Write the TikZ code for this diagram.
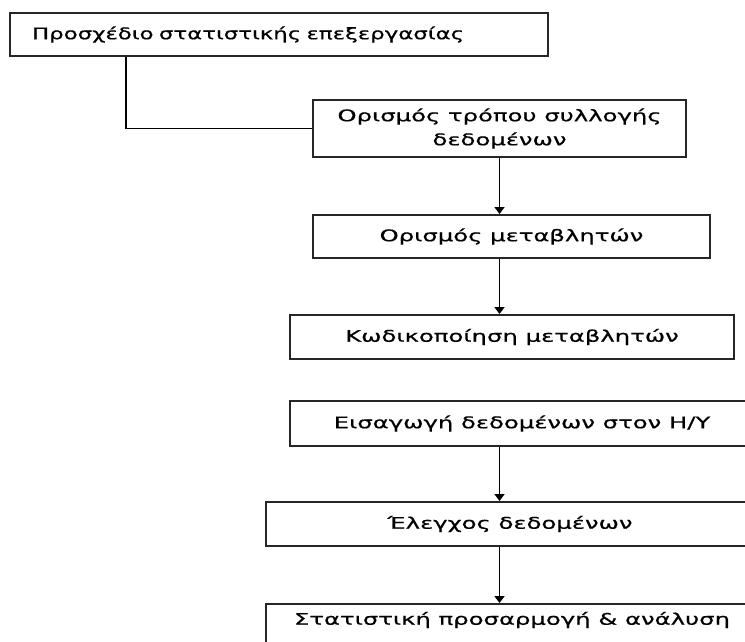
\documentclass[tikz,border=0pt]{standalone}
\usepackage{fontspec}
\newfontfamily\widefont{DejaVu Sans}[FakeStretch=1.52,FakeBold=0.6]
\newfontfamily\topfont{DejaVu Sans}[FakeStretch=1.43,FakeBold=0.6]
\usetikzlibrary{arrows.meta}
\begin{document}
\begin{tikzpicture}[x=1pt,y=-1pt,
  box/.style={draw=black!85,line width=2pt,rectangle,inner sep=0pt,
    font=\widefont\fontsize{16}{24}\selectfont,align=center},
  conn/.style={draw=black,line width=1.8pt},
  arr/.style={conn,-{Triangle[width=10pt,length=7pt]}}]
\useasboundingbox (0,0) rectangle (745,641);
\clip (0,0) rectangle (745,641);
% boxes
\node[box,minimum width=538pt,minimum height=43pt,text width=494pt,align=left,
  font=\topfont\fontsize{16}{24}\selectfont] (b1) at (279,34.5) {Προσχέδιο στατιστικής επεξεργασίας};
\node[box,minimum width=373pt,minimum height=57pt] (b2) at (499.5,128.5) {Ορισμός τρόπου συλλογής\\δεδομένων};
\node[box,minimum width=397pt,minimum height=43pt] (b3) at (511.5,236.5) {Ορισμός μεταβλητών};
\node[box,minimum width=444pt,minimum height=44pt] (b4) at (512,337) {Κωδικοποίηση μεταβλητών};
\node[box,minimum width=464pt,minimum height=45pt] (b5) at (522,423.5) {Εισαγωγή δεδομένων στον Η/Υ};
\node[box,minimum width=488pt,minimum height=44pt] (b6) at (510,524) {Έλεγχος δεδομένων};
\node[box,minimum width=492pt,minimum height=60pt] (b7) at (512,634) {};
\node[font=\widefont\fontsize{16}{24}\selectfont,inner sep=0pt] (t7) at (512,620) {Στατιστική προσαρμογή \& ανάλυση};
% connectors
\coordinate (ax) at (499.5,0);
\draw[conn] ([xshift=-153pt]b1.south) |- (b2.west);
\draw[arr] (b2.south -| ax) -- (b3.north -| ax);
\draw[arr] (b3.south -| ax) -- (b4.north -| ax);
\draw[arr] (b5.south -| ax) -- (b6.north -| ax);
\draw[arr] (b6.south -| ax) -- (b7.north -| ax);
\end{tikzpicture}
\end{document}
